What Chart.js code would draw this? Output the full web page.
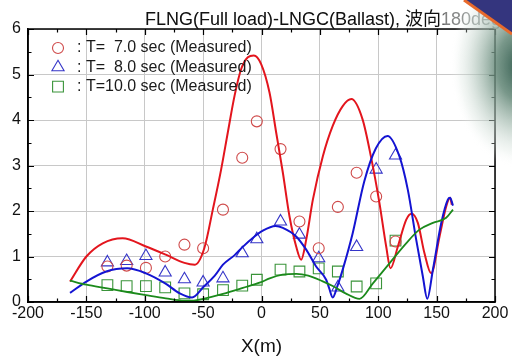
<!DOCTYPE html>
<html>
<head>
<meta charset="utf-8">
<script src="https://cdn.jsdelivr.net/npm/chart.js@4.4.1/dist/chart.umd.min.js"></script>
<style>
  html, body { margin: 0; padding: 0; background: #fff; }
  #panel { width: 512px; height: 358px; }
</style>
</head>
<body>
<div id="panel"><canvas id="grafico" width="512" height="358"></canvas></div>
<script>
// Datos
const titulo = 'FLNG(Full load)-LNGC(Ballast), 波向180deg';
const etiquetasLeyenda = [': T=  7.0 sec (Measured)', ': T=  8.0 sec (Measured)', ': T=10.0 sec (Measured)'];
const tituloX = 'X(m)';

// Puntos medidos (marcadores)
const medidoX   = [-132, -115.5, -99, -82.5, -66, -50, -33, -16.5, -4, 16.3, 32.5, 49, 65.4, 81.5, 98.2, 114.8];
const medido7Y  = [0.78, 0.80, 0.75, 1.00, 1.26, 1.18, 2.03, 3.17, 3.97, 3.36, 1.77, 1.18, 2.09, 2.84, 2.32, 1.33];
const medido8Y  = [0.87, 0.90, 1.01, 0.65, 0.50, 0.43, 0.52, 1.07, 1.38, 1.77, 1.48, 0.96, 0.32, 1.21, 2.91, 3.22];
const medido10Y = [0.37, 0.35, 0.35, 0.32, 0.19, 0.17, 0.26, 0.36, 0.49, 0.71, 0.67, 0.74, 0.67, 0.34, 0.41, 1.35];

// Curvas calculadas
const calc7X = [-164, -150, -136, -119, -99, -82, -66, -57, -49, -41.7, -34.6, -28.9, -23.1, -17.4, -11.7, -6.6, -0.3, 6.9, 12.6, 18.3, 24, 29.7, 34, 38.3, 44, 52.5, 61, 69.7, 77, 86.5, 93.7, 101, 106.8, 110.5, 116.8, 124, 128.5, 133.9, 139.6, 145.3, 152.5, 158.2, 161.5, 163];
const calc7Y = [0.45, 1.0, 1.29, 1.4, 1.22, 1.04, 0.86, 0.82, 1.18, 2.03, 2.91, 3.72, 4.53, 5.12, 5.38, 5.42, 5.23, 4.6, 3.72, 2.84, 1.88, 1.22, 0.93, 1.37, 2.25, 3.2, 3.87, 4.31, 4.46, 4.02, 3.2, 2.18, 1.22, 0.74, 1.22, 1.81, 1.94, 1.74, 1.07, 0.63, 1.44, 2.1, 2.29, 2.14];

const calc8X = [-164, -150, -133, -115, -99, -82.5, -70, -59.5, -49.4, -40, -33, -23, -16.5, -6, 0, 12, 18.3, 29.7, 38.3, 46.8, 55.4, 58, 61, 65, 70, 78, 88, 98, 108, 118, 125.3, 132.5, 138.2, 142, 146.8, 154, 159.6, 161.5, 164];
const calc8Y = [0.2, 0.45, 0.67, 0.74, 0.63, 0.41, 0.19, 0.1, 0.34, 0.58, 0.82, 1.03, 1.2, 1.44, 1.55, 1.67, 1.63, 1.44, 1.15, 0.78, 0.49, 0.3, 0.1, 0.35, 0.75, 1.5, 2.65, 3.38, 3.65, 3.21, 2.47, 1.37, 0.56, 0.07, 0.71, 1.74, 2.25, 2.29, 2.12];

const calc10X = [-164, -150, -132, -115, -99, -82, -66, -58, -50, -33, -16, -1, 7, 18, 30, 40, 52, 61, 72, 84, 95.4, 109.6, 123.9, 135.3, 146.8, 158.2, 164];
const calc10Y = [0.47, 0.38, 0.3, 0.22, 0.15, 0.08, 0.03, 0.03, 0.07, 0.18, 0.31, 0.43, 0.52, 0.6, 0.62, 0.58, 0.46, 0.35, 0.19, 0.07, 0.41, 0.85, 1.29, 1.59, 1.74, 1.85, 2.03];

// Ejes
const xMin = -200, xMax = 200, xPaso = 50;
const yMin = 0, yMax = 6, yPaso = 1;

const FUENTE = '"Liberation Sans", Arial, "Noto Sans CJK JP", sans-serif';
Chart.defaults.font.family = FUENTE;

const aPuntos = (xs, ys) => xs.map((x, i) => ({ x: x, y: ys[i] }));

// Curva suave sin marcadores
function curva(xs, ys, color, ancho) {
    return {
        data: aPuntos(xs, ys),
        showLine: true,
        borderColor: color,
        borderWidth: ancho,
        pointRadius: 0,
        cubicInterpolationMode: 'monotone',
        fill: false
    };
}

// Marcadores huecos
function marcas(ys, color, estilo, radio) {
    return {
        data: aPuntos(medidoX, ys),
        showLine: false,
        pointStyle: estilo,
        pointRadius: radio,
        pointBorderColor: color,
        pointBackgroundColor: 'rgba(0,0,0,0)',
        pointBorderWidth: 1.1
    };
}

const coloresMarca = ['#cf4a4a', '#3535c8', '#3a943a'];
const estilosMarca = [['circle', 5.5], ['triangle', 7], ['rect', 7.6]];

// Marco, ticks hacia dentro, titulo, leyenda y la mancha de la esquina
const decoracion = {
    id: 'decoracion',
    afterDatasetsDraw(chart) {
        const { ctx, chartArea: a, scales: { x, y } } = chart;
        ctx.save();
        ctx.strokeStyle = '#000';
        ctx.lineWidth = 1.2;
        ctx.beginPath();
        for (let v = xMin; v <= xMax; v += xPaso / 2) {
            const px = Math.round(x.getPixelForValue(v)) + 0.5;
            const largo = (v % xPaso === 0) ? 6 : 3.5;
            ctx.moveTo(px, a.bottom); ctx.lineTo(px, a.bottom - largo);
            ctx.moveTo(px, a.top);    ctx.lineTo(px, a.top + largo);
        }
        for (let v = yMin; v <= yMax; v += yPaso / 2) {
            const py = Math.round(y.getPixelForValue(v)) + 0.5;
            const largo = (v % yPaso === 0) ? 6 : 3.5;
            ctx.moveTo(a.left, py);  ctx.lineTo(a.left + largo, py);
            ctx.moveTo(a.right, py); ctx.lineTo(a.right - largo, py);
        }
        ctx.stroke();
        ctx.lineWidth = 1.5;
        ctx.strokeRect(a.left, a.top, a.right - a.left, a.bottom - a.top);
        ctx.restore();
    },
    afterDraw(chart) {
        const { ctx, chartArea: a } = chart;
        ctx.save();

        // Titulo (la parte final sale desvaida en la foto)
        const gt = ctx.createLinearGradient(145, 0, 500, 0);
        gt.addColorStop(0, '#111');
        gt.addColorStop(0.83, '#111');
        gt.addColorStop(0.845, '#808080');
        gt.addColorStop(1, '#9aa3a0');
        ctx.fillStyle = gt;
        ctx.font = '18px ' + FUENTE;
        ctx.textAlign = 'left';
        ctx.textBaseline = 'alphabetic';
        ctx.fillText(titulo, 145, 25);

        // Leyenda dentro del grafico
        ctx.font = '16px ' + FUENTE;
        ctx.textBaseline = 'middle';
        etiquetasLeyenda.forEach((txt, i) => {
            const cy = a.top + 19 + i * 19.3;
            const cx = a.left + 30;
            ctx.strokeStyle = coloresMarca[i];
            ctx.lineWidth = 1.1;
            ctx.beginPath();
            if (i === 0) {
                ctx.arc(cx, cy, 5.5, 0, Math.PI * 2);
            } else if (i === 1) {
                ctx.moveTo(cx, cy - 7); ctx.lineTo(cx + 6.1, cy + 3.5); ctx.lineTo(cx - 6.1, cy + 3.5); ctx.closePath();
            } else {
                ctx.rect(cx - 5.4, cy - 5.4, 10.8, 10.8);
            }
            ctx.stroke();
            ctx.fillStyle = '#1a1a1a';
            ctx.fillText(txt, a.left + 49, cy);
        });

        // Reflejo de la foto en la esquina superior derecha
        ctx.save();
        ctx.translate(520, 66);
        ctx.scale(0.82, 1.2);
        const g = ctx.createRadialGradient(0, 0, 4, 0, 0, 85);
        g.addColorStop(0, 'rgba(50,92,78,0.95)');
        g.addColorStop(0.3, 'rgba(98,134,118,0.85)');
        g.addColorStop(0.6, 'rgba(168,190,179,0.6)');
        g.addColorStop(0.85, 'rgba(218,229,223,0.3)');
        g.addColorStop(1, 'rgba(255,255,255,0)');
        ctx.fillStyle = g;
        ctx.beginPath();
        ctx.arc(0, 0, 85, 0, Math.PI * 2);
        ctx.fill();
        ctx.restore();

        ctx.fillStyle = '#34357e';
        ctx.beginPath();
        ctx.moveTo(464, 0); ctx.lineTo(512, 0); ctx.lineTo(512, 34); ctx.closePath();
        ctx.fill();
        ctx.strokeStyle = '#e86a2c';
        ctx.lineWidth = 3;
        ctx.beginPath();
        ctx.moveTo(464, 0); ctx.lineTo(512, 34);
        ctx.stroke();

        ctx.restore();
    }
};

const ctxGrafico = document.getElementById('grafico').getContext('2d');
const grafico = new Chart(ctxGrafico, {
    type: 'scatter',
    data: {
        datasets: [
            curva(calc10X, calc10Y, '#1b8a1b', 1.8),
            curva(calc8X, calc8Y, '#1414d2', 2),
            curva(calc7X, calc7Y, '#e3151d', 2),
            marcas(medido7Y, coloresMarca[0], estilosMarca[0][0], estilosMarca[0][1]),
            marcas(medido8Y, coloresMarca[1], estilosMarca[1][0], estilosMarca[1][1]),
            marcas(medido10Y, coloresMarca[2], estilosMarca[2][0], estilosMarca[2][1])
        ]
    },
    options: {
        responsive: false,
        animation: false,
        layout: { padding: { top: 29, right: 17, left: 0, bottom: 0 } },
        plugins: {
            legend: { display: false },
            tooltip: { enabled: false },
            title: { display: false }
        },
        scales: {
            x: {
                type: 'linear',
                min: xMin, max: xMax,
                afterFit: (s) => { s.height = 56; },
                ticks: { stepSize: xPaso, color: '#111', font: { size: 16 }, padding: 2, maxRotation: 0, autoSkip: false },
                grid: { color: '#c8c8c8', lineWidth: 1, drawTicks: false },
                border: { display: true, color: '#000', width: 1.5 },
                title: { display: true, text: tituloX, color: '#111', font: { size: 19 }, padding: { top: 0, bottom: 0 } }
            },
            y: {
                min: yMin, max: yMax,
                afterFit: (s) => { s.width = 28; },
                ticks: { stepSize: yPaso, color: '#111', font: { size: 16 }, padding: 7 },
                grid: { color: '#c8c8c8', lineWidth: 1, drawTicks: false },
                border: { display: true, color: '#000', width: 1.5 }
            }
        }
    },
    plugins: [decoracion]
});
</script>
</body>
</html>
